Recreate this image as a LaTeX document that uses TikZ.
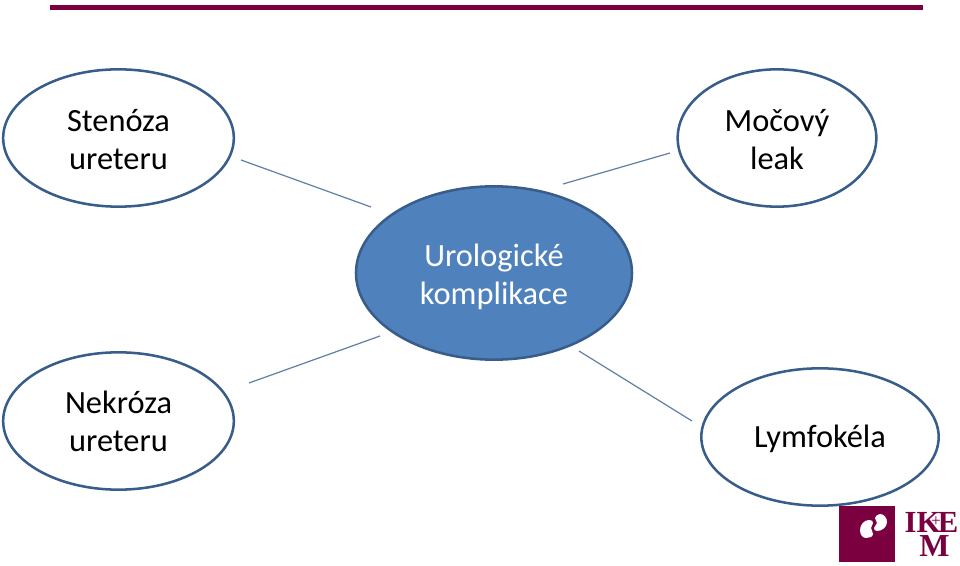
\documentclass[tikz,border=0pt]{standalone}
\usepackage{fontspec}
\setmainfont{Carlito}
\newfontfamily\logofont{Liberation Serif}
\usepackage{xcolor}
\usetikzlibrary{shapes.geometric}
\definecolor{bluemain}{HTML}{4F81BD}
\definecolor{blueline}{HTML}{385D8A}
\definecolor{wine}{HTML}{7A0040}
\definecolor{linkgray}{HTML}{5F7FA3}
\tikzset{
  every node/.append style={font=\fontsize{24.3}{28.5}\selectfont,align=center},
  bubble/.style={ellipse,draw=blueline,line width=1.9pt,inner sep=0pt},
  link/.style={linkgray,line width=0.9pt},
  logotext/.style={text=wine,inner sep=0pt,font=\logofont\bfseries\fontsize{23}{23}\selectfont}
}

\begin{document}
\begin{tikzpicture}[x=0.75pt,y=-0.75pt]
  \useasboundingbox (0,0) rectangle (960,566);
  \fill[wine] (50,5) rectangle (923,10);
  % ellipses
  \node[bubble,minimum width=173pt,minimum height=103pt] (stenoza) at (118.5,138) {};
  \node[bubble,minimum width=149pt,minimum height=103pt] (mocovy) at (777,138) {};
  \node[bubble,minimum width=173pt,minimum height=103pt] (nekroza) at (118.5,421) {};
  \node[bubble,minimum width=178pt,minimum height=103pt] (lymfokela) at (820,437) {};
  \node[bubble,fill=bluemain,minimum width=207pt,minimum height=130pt] (urolog) at (494,273) {};
  % texts
  \node (stenozat) at ([yshift=-1.2pt]stenoza.center) {Stenóza\\ureteru};
  \node (mocovyt) at ([yshift=-1.2pt]mocovy.center) {Močový\\leak};
  \node (nekrozat) at ([yshift=-0.2pt]nekroza.center) {Nekróza\\ureteru};
  \node (lymfokelat) at ([yshift=-1.7pt]lymfokela.center) {Lymfokéla};
  \node[text=white] (urologt) at ([yshift=-3pt]urolog.center) {Urologické\\komplikace};
  % links do not touch the ellipses
  \coordinate (s1) at (241,160);
  \coordinate (s2) at (371,207);
  \coordinate (m1) at (670,153);
  \coordinate (m2) at (563,184);
  \coordinate (n1) at (249,383);
  \coordinate (n2) at (380,336);
  \coordinate (l1) at (692,421);
  \coordinate (l2) at (579,351);
  \draw[link] (s1)--(s2);
  \draw[link] (m1)--(m2);
  \draw[link] (n1)--(n2);
  \draw[link] (l1)--(l2);
  % logo
  \fill[wine] (839,506) rectangle (895,562);
  \fill[white] (880,514) .. controls (884,514) and (887,518) .. (887,522)
    .. controls (887,527) and (882,531) .. (877,531)
    .. controls (875,531) and (874,530) .. (874,528)
    .. controls (874,526) and (877,525) .. (877,523)
    .. controls (877,521) and (875,520) .. (875,518)
    .. controls (875,516) and (878,514) .. (880,514);
  \fill[white] (869,520) .. controls (872,520) and (873,521) .. (873,523)
    .. controls (873,525) and (871,526) .. (871,528)
    .. controls (871,530) and (873,531) .. (873,534)
    .. controls (873,537) and (869,538) .. (866,538)
    .. controls (862,538) and (860,534) .. (860,530)
    .. controls (860,525) and (864,520) .. (869,520);
  \node[logotext] (ik) at (922.5,522) {IK};
  \node[logotext] (e) at (948,522) {E};
  \node[logotext,font=\logofont\fontsize{13}{13}\selectfont] (plus) at (936,522) {+};
  \node[logotext,font=\logofont\bfseries\fontsize{24}{24}\selectfont] (m) at (934.5,546) {M};
\end{tikzpicture}
\end{document}
